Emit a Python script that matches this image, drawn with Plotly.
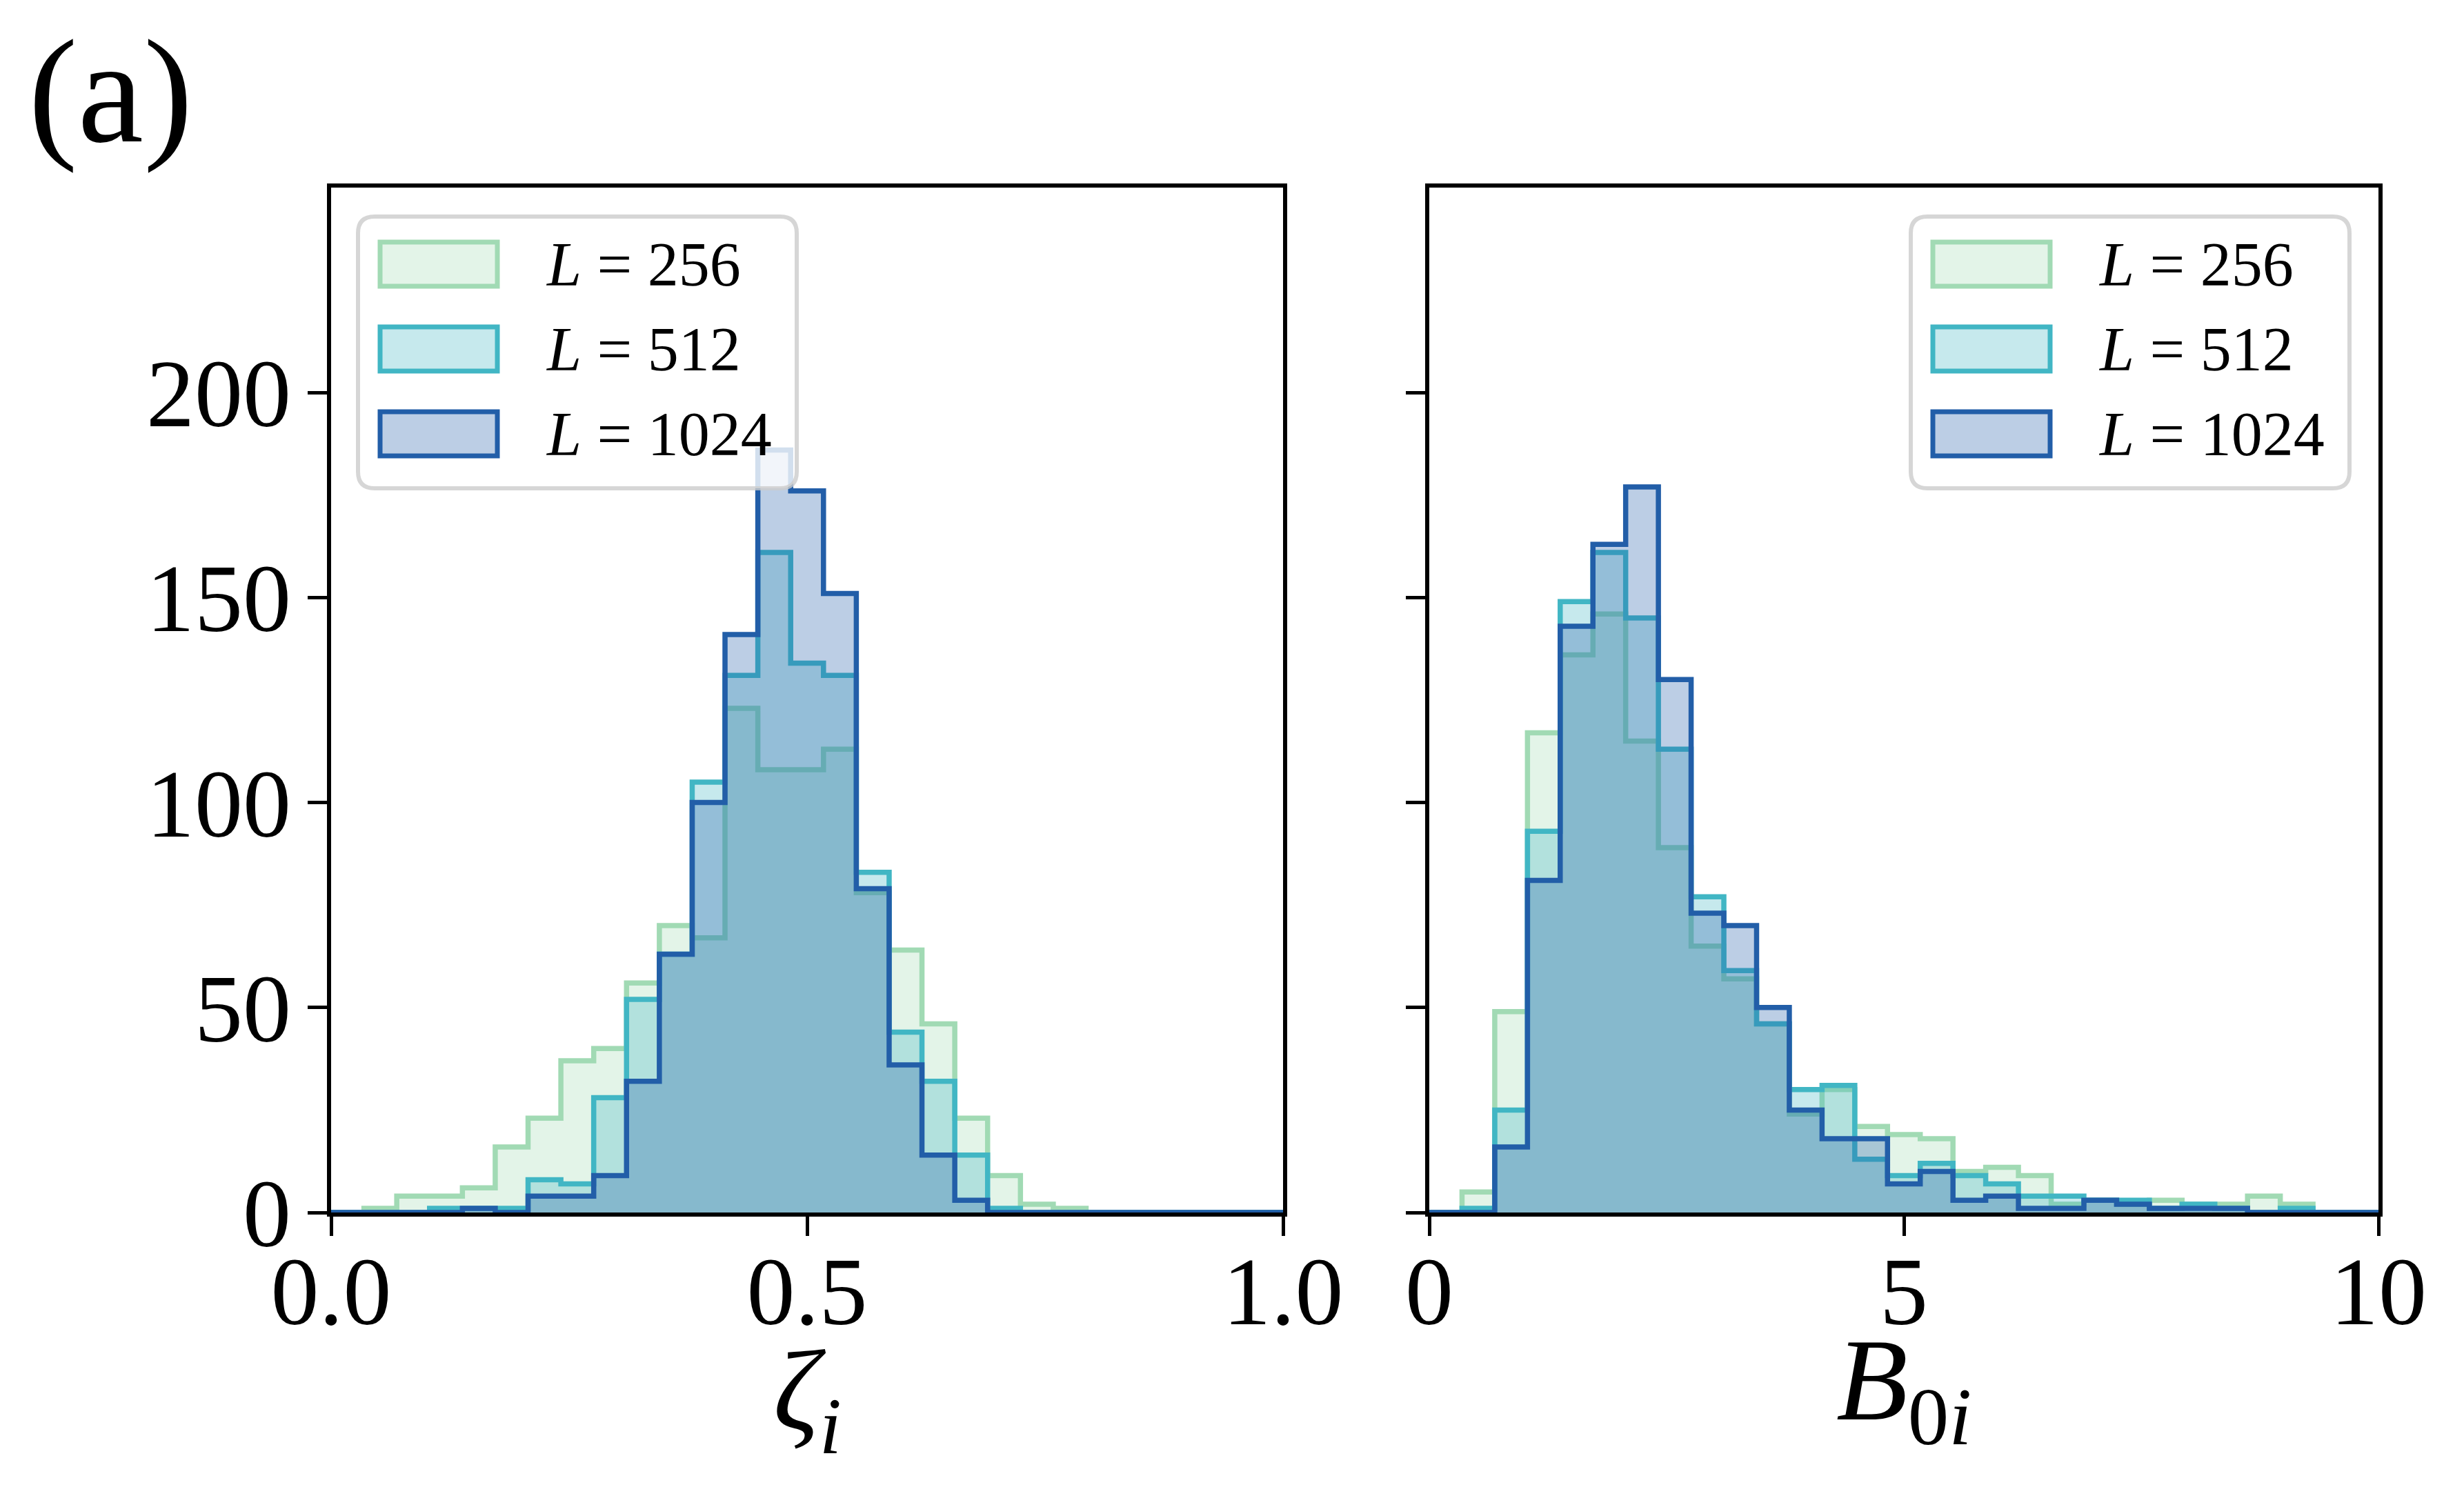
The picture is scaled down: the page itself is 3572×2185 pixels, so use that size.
import numpy as np
import plotly.graph_objects as go

W, H = 3572, 2185

# bin edges (29 bins over the plotted range)
zeta_edges = np.linspace(0, 1, 30)
b0_edges = np.linspace(0, 10, 30)

# counts per bin
zeta_256 = [0, 1, 4, 4, 6, 16, 23, 37, 40, 56, 70, 67, 123, 108, 108, 113, 78, 64, 46, 23, 9, 2, 1, 0, 0, 0, 0, 0, 0]
zeta_512 = [0, 0, 0, 1, 1, 1, 8, 7, 28, 52, 63, 105, 131, 161, 134, 131, 83, 44, 32, 14, 1, 0, 0, 0, 0, 0, 0, 0, 0]
zeta_1024 = [0, 0, 0, 0, 1, 0, 4, 4, 9, 32, 63, 100, 141, 186, 176, 151, 79, 36, 14, 3, 0, 0, 0, 0, 0, 0, 0, 0, 0]

b0_256 = [0, 5, 49, 117, 136, 146, 115, 89, 65, 57, 46, 24, 30, 21, 19, 18, 10, 11, 9, 2, 3, 2, 3, 2, 2, 4, 2, 0, 0]
b0_512 = [0, 1, 25, 93, 149, 161, 145, 113, 77, 59, 46, 30, 31, 13, 9, 12, 9, 7, 4, 4, 3, 3, 1, 2, 1, 0, 1, 0, 0]
b0_1024 = [0, 0, 16, 81, 143, 163, 177, 130, 73, 70, 50, 25, 18, 18, 7, 10, 3, 4, 1, 1, 3, 2, 1, 1, 1, 0, 0, 0, 0]

sizes = ["256", "512", "1024"]
line_colors = ["#a1dab4", "#41b6c4", "#225ea8"]
fill_colors = ["rgba(161,218,180,0.3)", "rgba(65,182,196,0.3)", "rgba(34,94,168,0.3)"]

x_ticks_left = [0, 0.5, 1]
x_text_left = ["0.0", "0.5", "1.0"]
x_ticks_right = [0, 5, 10]
x_text_right = ["0", "5", "10"]
y_ticks = [0, 50, 100, 150, 200]

FONT = "Liberation Serif"


def px_x(p):
    return p / W


def px_y(p):
    return 1 - p / H


def step(edges, counts):
    # outline of a stepfilled histogram
    x = np.concatenate([[edges[0]], edges])
    y = np.concatenate([[0], counts, [0]])
    return x, y


fig = go.Figure()

panels = [
    ("x", "y", zeta_edges, [zeta_256, zeta_512, zeta_1024]),
    ("x2", "y2", b0_edges, [b0_256, b0_512, b0_1024]),
]
for xa, ya, edges, series in panels:
    for counts, lc, fc in zip(series, line_colors, fill_colors):
        x, y = step(edges, np.array(counts))
        fig.add_trace(go.Scatter(
            x=x, y=y, mode="lines", xaxis=xa, yaxis=ya,
            line=dict(shape="hv", color=lc, width=7.5),
            fill="tozeroy", fillcolor=fc,
            showlegend=False, hoverinfo="skip",
        ))

axis_style = dict(
    showline=True, linewidth=6, linecolor="black", mirror=True,
    ticks="outside", ticklen=28, tickwidth=5, tickcolor="black",
    showgrid=False, zeroline=False, automargin=False,
    tickfont=dict(family=FONT, size=140, color="black"),
)
ydom = [px_y(1750), px_y(264)]

fig.update_layout(
    width=W, height=H,
    margin=dict(l=0, r=0, t=0, b=0, autoexpand=False),
    paper_bgcolor="white", plot_bgcolor="white",
    showlegend=False,
    xaxis=dict(domain=[px_x(472), px_x(1852)], range=[0, 1], anchor="y",
               tickvals=x_ticks_left, ticktext=x_text_left,
               ticklabelstandoff=-40, **axis_style),
    yaxis=dict(domain=ydom, range=[0, 250], anchor="x",
               tickvals=y_ticks, ticklabelstandoff=-4, **axis_style),
    xaxis2=dict(domain=[px_x(2064), px_x(3440)], range=[0, 10], anchor="y2",
                tickvals=x_ticks_right, ticktext=x_text_right,
                ticklabelstandoff=-40, **axis_style),
    yaxis2=dict(domain=ydom, range=[0, 250], anchor="x2", matches="y",
                tickvals=y_ticks, showticklabels=False, **axis_style),
)


def rounded_box(x0, y0, x1, y1, r):
    # pixel box -> paper path with rounded corners
    a, b = px_x(x0), px_x(x1)
    top, bot = px_y(y0), px_y(y1)
    rx, ry = r / W, r / H
    return (f"M{a + rx},{top} L{b - rx},{top} Q{b},{top} {b},{top - ry} "
            f"L{b},{bot + ry} Q{b},{bot} {b - rx},{bot} L{a + rx},{bot} "
            f"Q{a},{bot} {a},{bot + ry} L{a},{top - ry} Q{a},{top} {a + rx},{top} Z")


def add_legend(left, top):
    width, height = 636, 394
    fig.add_shape(type="path", xref="paper", yref="paper", layer="above",
                  path=rounded_box(left, top, left + width, top + height, 24),
                  fillcolor="rgba(255,255,255,0.8)",
                  line=dict(color="rgba(204,204,204,0.8)", width=6))
    for i, (s, lc, fc) in enumerate(zip(sizes, line_colors, fill_colors)):
        cy = top + 69 + i * 123
        fig.add_shape(type="rect", xref="paper", yref="paper", layer="above",
                      x0=px_x(left + 32), x1=px_x(left + 202),
                      y0=px_y(cy + 32), y1=px_y(cy - 32),
                      fillcolor=fc, line=dict(color=lc, width=7))
        fig.add_annotation(x=px_x(left + 270), y=px_y(cy), xref="paper", yref="paper",
                           xanchor="left", yanchor="middle", showarrow=False,
                           text=f"<i>L</i> = {s}",
                           font=dict(family=FONT, size=90, color="black"))


add_legend(511, 306)
add_legend(2762, 306)

# axis titles and panel label
fig.add_annotation(x=0.5, xref="x domain", y=px_y(2020), yref="paper",
                   text="<i>ζ<sub>i</sub></i>", showarrow=False,
                   xanchor="center", yanchor="middle",
                   font=dict(family=FONT, size=165, color="black"))
fig.add_annotation(x=0.5, xref="x2 domain", y=px_y(2005), yref="paper",
                   text="<i>B</i><sub>0<i>i</i></sub>", showarrow=False,
                   xanchor="center", yanchor="middle",
                   font=dict(family=FONT, size=170, color="black"))
fig.add_annotation(x=px_x(152), y=px_y(124), xref="paper", yref="paper",
                   text="(a)", showarrow=False, xanchor="center", yanchor="middle",
                   font=dict(family=FONT, size=215, color="black"))

fig.write_html("out.html")
